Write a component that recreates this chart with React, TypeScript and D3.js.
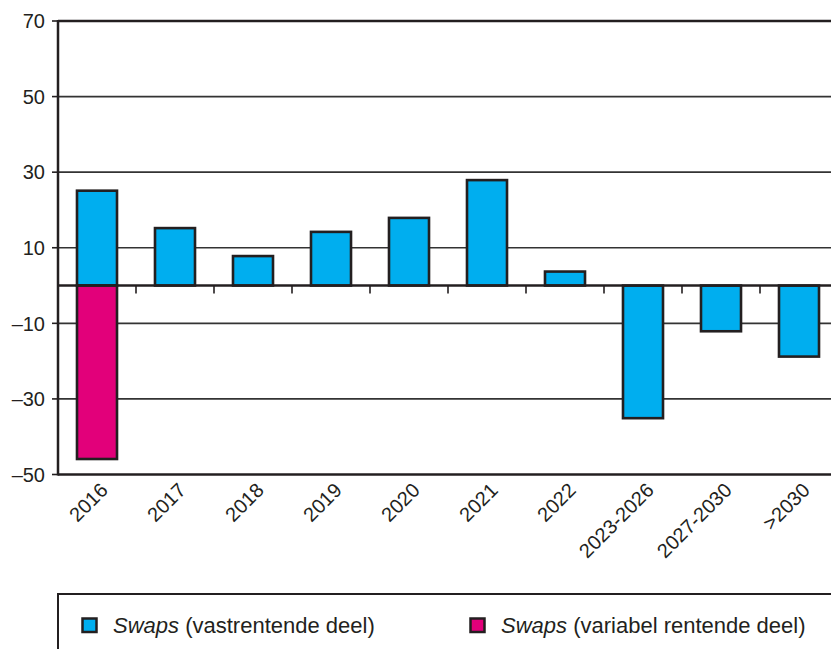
import * as d3 from "d3";
import { useEffect, useRef } from "react";

const categories = ["2016", "2017", "2018", "2019", "2020", "2021", "2022", "2023-2026", "2027-2030", ">2030"];
const vastValues = [25.1, 15.2, 7.8, 14.2, 17.9, 27.9, 3.7, -35.1, -12.1, -18.8];
const variabelValues = [-45.9, 0, 0, 0, 0, 0, 0, 0, 0, 0];
const yTicks = [70, 50, 30, 10, -10, -30, -50];
const legendItems = [
    { italic: "Swaps", rest: " (vastrentende deel)", color: "#00aeef" },
    { italic: "Swaps", rest: " (variabel rentende deel)", color: "#e2007a" },
];

const W = 831,
    H = 649;

export default function App() {
    const ref = useRef<SVGSVGElement>(null);

    useEffect(() => {
        const svg = d3.select(ref.current);
        svg.selectAll("*").remove();

        const left = 58,
            right = 838,
            top = 21,
            bottom = 474.5;
        const ink = "#231f20";
        const font = "'Liberation Sans', Arial, sans-serif";

        const x = d3.scaleBand().domain(categories).range([left, right]).paddingInner(0.487).paddingOuter(0.2435);
        const y = d3.scaleLinear().domain([-50, 70]).range([bottom, top]);
        const step = x.step();
        const bw = x.bandwidth();

        // Gridlines
        svg.append("g")
            .selectAll("line")
            .data(yTicks.filter((d) => d !== 70 && d !== -50))
            .join("line")
            .attr("x1", left)
            .attr("x2", W)
            .attr("y1", (d) => y(d))
            .attr("y2", (d) => y(d))
            .attr("stroke", "#333")
            .attr("stroke-width", 1.6);

        // frame lines
        svg.append("line").attr("x1", left).attr("x2", W).attr("y1", y(70)).attr("y2", y(70))
            .attr("stroke", ink).attr("stroke-width", 2.5);
        svg.append("line").attr("x1", left).attr("x2", W).attr("y1", y(-50)).attr("y2", y(-50))
            .attr("stroke", ink).attr("stroke-width", 2.5);

        // y ticks + labels
        const yg = svg.append("g");
        yg.selectAll("line")
            .data(yTicks)
            .join("line")
            .attr("x1", left - 6)
            .attr("x2", left)
            .attr("y1", (d) => y(d))
            .attr("y2", (d) => y(d))
            .attr("stroke", ink)
            .attr("stroke-width", 1.6);
        yg.selectAll("text")
            .data(yTicks)
            .join("text")
            .attr("x", 45)
            .attr("y", (d) => y(d))
            .attr("dy", "0.36em")
            .attr("text-anchor", "end")
            .attr("font-family", font)
            .attr("font-size", 20)
            .attr("fill", ink)
            .text((d) => (d < 0 ? "\u2013" + Math.abs(d) : String(d)));

        // Bars
        const drawBars = (vals: number[], color: string) => {
            svg.append("g")
                .selectAll("rect")
                .data(vals.map((v, i) => ({ v, c: categories[i] })).filter((d) => d.v !== 0))
                .join("rect")
                .attr("x", (d) => x(d.c)!)
                .attr("width", bw)
                .attr("y", (d) => y(Math.max(0, d.v)))
                .attr("height", (d) => Math.abs(y(d.v) - y(0)))
                .attr("fill", color)
                .attr("stroke", ink)
                .attr("stroke-width", 2.6);
        };
        drawBars(vastValues, "#00aeef");
        drawBars(variabelValues, "#e2007a");

        // zero line with category ticks
        svg.append("line").attr("x1", left).attr("x2", W).attr("y1", y(0)).attr("y2", y(0))
            .attr("stroke", ink).attr("stroke-width", 2.5);
        svg.append("g")
            .selectAll("line")
            .data(categories.slice(1))
            .join("line")
            .attr("x1", (d) => x(d)! - (step - bw) / 2)
            .attr("x2", (d) => x(d)! - (step - bw) / 2)
            .attr("y1", y(0))
            .attr("y2", y(0) + 8)
            .attr("stroke", ink)
            .attr("stroke-width", 1.6);

        // left axis
        svg.append("line").attr("x1", left).attr("x2", left).attr("y1", top - 1).attr("y2", bottom + 1)
            .attr("stroke", ink).attr("stroke-width", 2.5);

        // x labels
        svg.append("g")
            .selectAll("text")
            .data(categories)
            .join("text")
            .attr("transform", (d) => `translate(${x(d)! + bw / 2 + 12},${bottom + 17}) rotate(-45)`)
            .attr("text-anchor", "end")
            .attr("font-family", font)
            .attr("font-size", 20)
            .attr("fill", ink)
            .text((d) => d);

        // legend
        svg.append("rect")
            .attr("x", 58)
            .attr("y", 594)
            .attr("width", 900)
            .attr("height", 200)
            .attr("fill", "none")
            .attr("stroke", ink)
            .attr("stroke-width", 2);
        const lg = svg.append("g")
            .selectAll("g")
            .data(legendItems)
            .join("g")
            .attr("transform", (d, i) => `translate(${i === 0 ? 81 : 469},0)`);
        lg.append("rect")
            .attr("x", 1.5)
            .attr("y", 618.5)
            .attr("width", 14)
            .attr("height", 13.5)
            .attr("fill", (d) => d.color)
            .attr("stroke", ink)
            .attr("stroke-width", 2.5);
        const lt = lg.append("text")
            .attr("x", 32)
            .attr("y", 632.5)
            .attr("font-family", font)
            .attr("font-size", 22)
            .attr("fill", ink);
        lt.append("tspan").attr("font-style", "italic").text((d) => d.italic);
        lt.append("tspan").text((d) => d.rest);
    }, []);

    return <svg ref={ref} width={W} height={H} style={{ position: "absolute", left: 0, top: 0 }}></svg>;
}
